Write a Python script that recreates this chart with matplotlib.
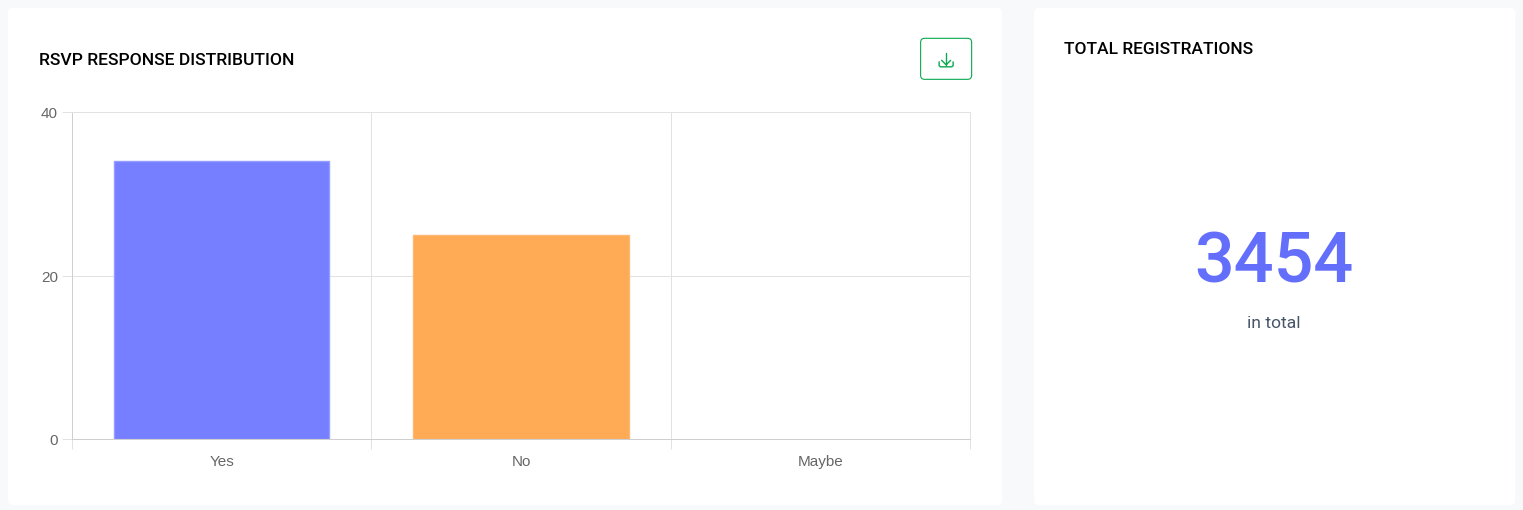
import matplotlib
matplotlib.use("Agg")
import matplotlib.pyplot as plt
from matplotlib.patches import FancyBboxPatch
from matplotlib.lines import Line2D

categories = ["Yes", "No", "Maybe"]
responses = [34, 25, 0]
bar_colors = ["#757fff", "#ffaa55", "none"]
bar_edges = ["#959dff", "#ffb871", "none"]
y_ticks = [0, 20, 40]
total_value = "3454"
total_caption = "in total"
left_title = "RSVP RESPONSE DISTRIBUTION"
right_title = "TOTAL REGISTRATIONS"

W, H = 1523, 510
PX = 0.72  # points per pixel at dpi 100
plt.rcParams["font.family"] = ["Roboto", "DejaVu Sans"]
fig = plt.figure(figsize=((W + 0.2) / 100, (H + 0.2) / 100), dpi=100, facecolor="#f8f9fb")

# full-figure pixel canvas for cards and text
bg = fig.add_axes([0, 0, 1, 1], zorder=0)
bg.set_xlim(0, W)
bg.set_ylim(H, 0)
bg.axis("off")

def card(x0, y0, x1, y1):
    bg.add_patch(FancyBboxPatch((x0 + 5, y0 + 5), x1 - x0 - 10, y1 - y0 - 10,
                                boxstyle="round,pad=5,rounding_size=5",
                                fc="white", ec="none"))

card(8, 8, 1002, 505)
card(1034, 8, 1515, 505)

bg.text(39, 60, left_title, fontsize=12.6, fontweight="medium", color="#000000",
        va="center", ha="left")
bg.text(1064, 49, right_title, fontsize=12.55, fontweight="medium", color="#000000",
        va="center", ha="left")
bg.text(1274, 263, total_value, fontsize=50.5, fontweight="medium", color="#636ffb",
        va="center", ha="center")
bg.text(1274, 323, total_caption, fontsize=12.6, color="#475569",
        va="center", ha="center")

# download button
green = "#0aa84f"
bg.add_patch(FancyBboxPatch((924, 42), 44, 34, boxstyle="round,pad=3.5,rounding_size=4",
                            fc="white", ec=green, lw=0.8))
for xs, ys in [([946, 946], [53, 65]),
               ([941.5, 946, 950.5], [60.5, 65, 60.5]),
               ([939, 939, 940.5, 951.5, 953, 953], [62, 66, 67, 67, 66, 62])]:
    bg.add_line(Line2D(xs, ys, color=green, lw=1.0, solid_capstyle="round",
                       solid_joinstyle="round"))

# chart
L, R, T, B = 72, 970, 112.5, 439.5
ax = fig.add_axes([L / W, 1 - B / H, (R - L) / W, (B - T) / H], zorder=1)
ax.patch.set_alpha(0)
ax.set_xlim(-0.5, 2.5)
ax.set_ylim(0, 40)
ax.bar(range(3), responses, width=0.72, color=bar_colors, edgecolor=bar_edges,
       linewidth=1.0, zorder=3)

ax.set_yticks(y_ticks)
ax.set_xticks([-0.5, 0.5, 1.5, 2.5], minor=False)
ax.set_xticklabels([])
ax.set_xticks(range(3), labels=categories, minor=True)
ax.grid(True, color="#e2e2e2", lw=PX, zorder=0)
ax.tick_params(axis="y", length=7.2, width=PX, color="#e2e2e2", pad=3,
               labelsize=11, labelcolor="#666666")
ax.tick_params(axis="x", which="major", length=7.2, width=PX, color="#e2e2e2")
ax.tick_params(axis="x", which="minor", length=0, pad=11,
               labelsize=11, labelcolor="#666666")
for lab in ax.get_yticklabels() + ax.get_xticklabels(minor=True):
    lab.set_fontfamily(["Liberation Sans", "DejaVu Sans"])
for side, c in [("left", "#cfcfcf"), ("bottom", "#cfcfcf"), ("top", "#e2e2e2"), ("right", "#e2e2e2")]:
    ax.spines[side].set_color(c)
    ax.spines[side].set_linewidth(PX)

fig.savefig("out.png", dpi=100, facecolor=fig.get_facecolor())
